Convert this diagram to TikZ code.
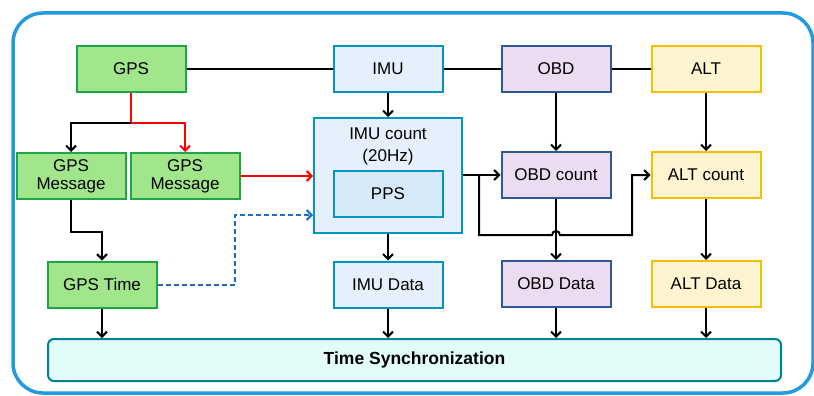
\documentclass[tikz,border=0pt]{standalone}
\usepackage{fontspec}
\setmainfont{Liberation Sans}
\usetikzlibrary{arrows.meta}

\definecolor{gpsfill}{RGB}{162,230,140}
\definecolor{gpsline}{RGB}{30,165,70}
\definecolor{imufill}{RGB}{230,240,252}
\definecolor{ppsfill}{RGB}{214,234,250}
\definecolor{imuline}{RGB}{0,150,190}
\definecolor{obdfill}{RGB}{235,220,242}
\definecolor{obdline}{RGB}{45,90,150}
\definecolor{altfill}{RGB}{255,244,208}
\definecolor{altline}{RGB}{245,190,0}
\definecolor{syncfill}{RGB}{226,252,250}
\definecolor{syncline}{RGB}{0,130,150}
\definecolor{framecol}{RGB}{35,155,225}
\definecolor{dashcol}{RGB}{30,110,200}

\begin{document}
\begin{tikzpicture}[x=1pt,y=-1pt]
\tikzset{
  box/.style={rectangle,draw,line width=2pt,minimum width=109pt,minimum height=46pt,
    inner sep=1pt,align=center,font=\fontsize{17}{18}\selectfont},
  gpsbox/.style={box,fill=gpsfill,draw=gpsline},
  imubox/.style={box,fill=imufill,draw=imuline},
  obdbox/.style={box,fill=obdfill,draw=obdline},
  altbox/.style={box,fill=altfill,draw=altline},
  link/.style={line width=2pt},
  arr/.style={link,-{Straight Barb[length=5pt,width=10pt,line width=2pt]}},
  redarr/.style={arr,red},
  dasharr/.style={arr,dashcol,dash pattern=on 5pt off 3pt}
}
\useasboundingbox (0,0) rectangle (814,396);
\draw[framecol,line width=3.5pt,rounded corners=30pt,fill=white] (13,13) rectangle (813,393);

% sources
\node[gpsbox] (n_gps) at (131,69) {GPS};
\node[imubox] (n_imu) at (388,69) {IMU};
\node[obdbox] (n_obd) at (556,69) {OBD};
\node[altbox] (n_alt) at (706,69) {ALT};

% second row
\node[gpsbox] (n_msg1) at (71,176) {GPS\\Message};
\node[gpsbox] (n_msg2) at (185,176) {GPS\\Message};
\node[imubox,minimum width=148pt,minimum height=115pt] (n_imucnt) at (388,175.5) {};
\node[font=\fontsize{17}{22}\selectfont,align=center] (n_imucnt_txt) at (388,146) {IMU count\\(20Hz)};
\node[box,fill=ppsfill,draw=imuline] (n_pps) at (388,194) {PPS};
\node[obdbox] (n_obdcnt) at (556,175) {OBD count};
\node[altbox] (n_altcnt) at (706,175) {ALT count};

% third row
\node[gpsbox] (n_gpstime) at (102,284.5) {GPS Time};
\node[imubox] (n_imudata) at (388,284.5) {IMU Data};
\node[obdbox] (n_obddata) at (556,284) {OBD Data};
\node[altbox] (n_altdata) at (706,284) {ALT Data};

% sync bar
\node[rectangle,draw=syncline,fill=syncfill,line width=2pt,rounded corners=6pt,
  minimum width=733pt,minimum height=42pt,font=\fontsize{17.5}{19}\selectfont\bfseries] (n_sync) at (414.5,360) {Time Synchronization};

\coordinate (c_split) at (131,123);
\coordinate (c_dash) at (235,215);
\coordinate (c_br) at (479,175);
\coordinate (c_low) at (479,235);
\coordinate (c_hop) at (552,235);

\draw[link] (n_gps) -- (n_imu);
\draw[link] (n_imu) -- (n_obd);
\draw[link] (n_obd) -- (n_alt);

\draw[link,red] (n_gps.south) -- (c_split);
\draw[redarr] (c_split) -| (n_msg2.north);
\draw[arr] (c_split) -| (n_msg1.north);
\draw[redarr] (n_msg2.east) -- (n_msg2.east -| n_imucnt.west);
\draw[arr] (n_msg1.south) -- ++(0,32) -| (n_gpstime.north);
\draw[dasharr] (n_gpstime.east) -| (c_dash) -- (c_dash -| n_imucnt.west);

\draw[arr] (n_imu) -- (n_imucnt);
\draw[arr] (n_imucnt) -- (n_imudata);
\draw[arr] (n_obd) -- (n_obdcnt);
\draw[arr] (n_obdcnt) -- (n_obddata);
\draw[arr] (n_alt) -- (n_altcnt);
\draw[arr] (n_altcnt) -- (n_altdata);

\draw[arr] (n_imucnt.east |- n_obdcnt.west) -- (n_obdcnt.west);
\draw[arr] (c_br) -- (c_low) -- (c_hop) arc[start angle=180,end angle=0,radius=4pt]
  -- ++(72,0) |- (n_altcnt.west);

\draw[arr] (n_gpstime) -- (n_gpstime |- n_sync.north);
\draw[arr] (n_imudata) -- (n_imudata |- n_sync.north);
\draw[arr] (n_obddata) -- (n_obddata |- n_sync.north);
\draw[arr] (n_altdata) -- (n_altdata |- n_sync.north);
\end{tikzpicture}
\end{document}
